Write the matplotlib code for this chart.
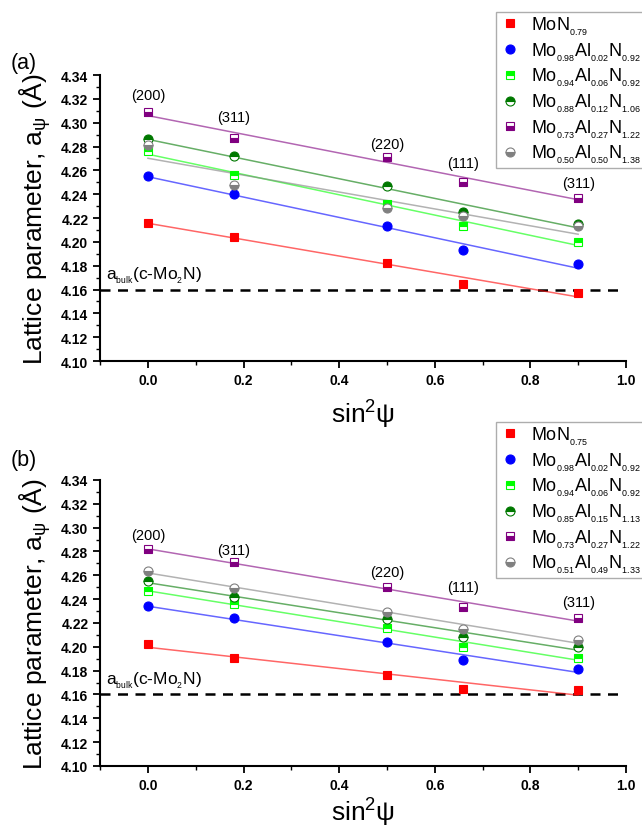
import matplotlib
matplotlib.use('Agg')
import matplotlib.pyplot as plt
import numpy as np

plt.rcParams['font.family'] = ['Liberation Sans', 'DejaVu Sans']
plt.rcParams['mathtext.default'] = 'regular'

x_vals = [0.0, 0.18, 0.5, 0.66, 0.9]
hkl = ['(200)', '(311)', '(220)', '(111)', '(311)']

# panel (a)
labels_a = [r'MoN$_{_{0.79}}$', r'Mo$_{_{0.98}}$Al$_{_{0.02}}$N$_{_{0.92}}$', r'Mo$_{_{0.94}}$Al$_{_{0.06}}$N$_{_{0.92}}$',
            r'Mo$_{_{0.88}}$Al$_{_{0.12}}$N$_{_{1.06}}$', r'Mo$_{_{0.73}}$Al$_{_{0.27}}$N$_{_{1.22}}$',
            r'Mo$_{_{0.50}}$Al$_{_{0.50}}$N$_{_{1.38}}$']
a_mon = [4.216, 4.204, 4.182, 4.165, 4.157]
a_al02 = [4.255, 4.240, 4.213, 4.193, 4.181]
a_al06 = [4.276, 4.256, 4.232, 4.213, 4.200]
a_al12 = [4.286, 4.272, 4.247, 4.225, 4.215]
a_al27 = [4.309, 4.287, 4.271, 4.250, 4.237]
a_al50 = [4.281, 4.248, 4.228, 4.222, 4.213]
hkl_y_a = [4.323, 4.305, 4.282, 4.266, 4.249]

# panel (b)
labels_b = [r'MoN$_{_{0.75}}$', r'Mo$_{_{0.98}}$Al$_{_{0.02}}$N$_{_{0.92}}$', r'Mo$_{_{0.94}}$Al$_{_{0.06}}$N$_{_{0.92}}$',
            r'Mo$_{_{0.85}}$Al$_{_{0.15}}$N$_{_{1.13}}$', r'Mo$_{_{0.73}}$Al$_{_{0.27}}$N$_{_{1.22}}$',
            r'Mo$_{_{0.51}}$Al$_{_{0.49}}$N$_{_{1.33}}$']
b_mon = [4.202, 4.191, 4.176, 4.165, 4.164]
b_al02 = [4.234, 4.224, 4.204, 4.189, 4.181]
b_al06 = [4.247, 4.236, 4.216, 4.200, 4.191]
b_al15 = [4.255, 4.242, 4.223, 4.208, 4.200]
b_al27 = [4.282, 4.271, 4.250, 4.233, 4.224]
b_al49 = [4.264, 4.249, 4.229, 4.215, 4.206]
hkl_y_b = [4.294, 4.281, 4.263, 4.250, 4.238]

a_bulk = 4.16

# marker, color, fillstyle
styles = [('s', '#ff0000', 'full'),
          ('o', '#0000ff', 'full'),
          ('s', '#00ff00', 'top'),
          ('o', '#007800', 'top'),
          ('s', '#800080', 'bottom'),
          ('o', '#808080', 'bottom')]


def panel(ax, series, labels, hkl_y, tag, tag_y, xpad, leg_top):
    x = np.array(x_vals)
    handles = []
    for vals, lab, (m, c, fs) in zip(series, labels, styles):
        y = np.array(vals)
        k, b = np.polyfit(x, y, 1)
        xs = np.array([x.min(), x.max()])
        ax.plot(xs, k * xs + b, color=c, lw=1.1, alpha=0.6, zorder=2)
        h, = ax.plot(x, y, ls='none', marker=m, ms=6.5 if m == 'o' else 5.5,
                     color=c, mfc=c, mfcalt='white', mec=c, mew=0.8, fillstyle=fs, zorder=3)
        handles.append(h)
    ax.plot([-0.1, 0.99], [a_bulk, a_bulk], ls=(0, (4, 3)), color='black', lw=1.8, zorder=1)
    ax.text(-0.088, a_bulk + 0.004, r'a$_{_{bulk}}$(c-Mo$_{_2}$N)', fontsize=12.5, va='bottom', ha='left')
    for xi, yi, t in zip(x_vals, hkl_y, hkl):
        ax.text(xi, yi, t, fontsize=10.5, ha='center', va='center')

    ax.set_xlim(-0.1, 1.0)
    ax.set_ylim(4.10, 4.34)
    ax.set_xticks(np.arange(0, 1.01, 0.2))
    ax.set_xticks(np.arange(-0.1, 1.01, 0.1), minor=True)
    ax.set_yticks(np.arange(4.10, 4.341, 0.02))
    ax.set_yticks(np.arange(4.10, 4.341, 0.01), minor=True)
    ax.xaxis.set_major_formatter(matplotlib.ticker.FormatStrFormatter('%.1f'))
    ax.yaxis.set_major_formatter(matplotlib.ticker.FormatStrFormatter('%.2f'))
    for s in ['top', 'right']:
        ax.spines[s].set_visible(False)
    for s in ['left', 'bottom']:
        ax.spines[s].set_linewidth(1.5)
    ax.tick_params(which='major', direction='out', length=5, width=1.3, labelsize=10)
    ax.tick_params(which='minor', direction='out', length=3, width=1.0)
    for lab in ax.get_xticklabels() + ax.get_yticklabels():
        lab.set_fontweight('bold')
    ax.set_ylabel(r'Lattice parameter, a$_\psi$ ($\AA$)', fontsize=19, labelpad=6)
    ax.set_xlabel(r'sin$^2\psi$', fontsize=19, labelpad=xpad)
    fig.text(0.016, 1 - tag_y / 828, tag, fontsize=15.5, va='center')

    leg = fig.legend(handles, labels, loc='upper left', bbox_to_anchor=(496 / 642, leg_top),
                     borderaxespad=0, fontsize=13, frameon=True, fancybox=False, edgecolor='#999999',
                     handletextpad=0.5, labelspacing=0.2, borderpad=0.15, handlelength=1.3)
    leg.get_frame().set_linewidth(1.0)


fig = plt.figure(figsize=(6.42, 8.28), dpi=100)
ax1 = fig.add_axes([0.156, 0.5628, 0.819, 0.3454])
ax2 = fig.add_axes([0.156, 0.0737, 0.819, 0.3454])

panel(ax1, [a_mon, a_al02, a_al06, a_al12, a_al27, a_al50], labels_a, hkl_y_a, '(a)', 63, 8, 1 - 13 / 828)
panel(ax2, [b_mon, b_al02, b_al06, b_al15, b_al27, b_al49], labels_b, hkl_y_b, '(b)', 461, 3, 1 - 423 / 828)

fig.savefig('out.png', dpi=100)
